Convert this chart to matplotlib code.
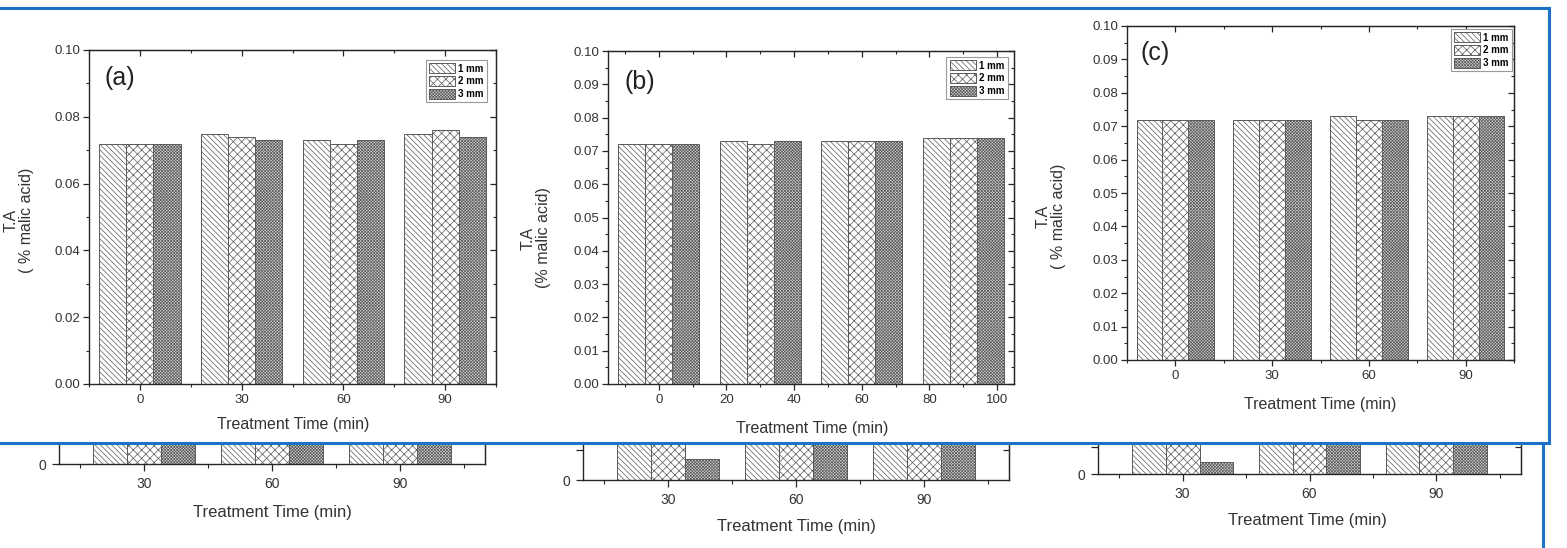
import numpy as np
import matplotlib
matplotlib.use("Agg")
import matplotlib.pyplot as plt
from matplotlib.lines import Line2D
from matplotlib.ticker import MultipleLocator

plt.rcParams['font.family'] = ['Liberation Sans', 'DejaVu Sans']
plt.rcParams['hatch.linewidth'] = 0.5

# data
times = [0, 30, 60, 90]
series_names = ['1 mm', '2 mm', '3 mm']

a_1mm = [0.072, 0.075, 0.073, 0.075]
a_2mm = [0.072, 0.074, 0.072, 0.076]
a_3mm = [0.072, 0.073, 0.073, 0.074]

b_1mm = [0.072, 0.073, 0.073, 0.074]
b_2mm = [0.072, 0.072, 0.073, 0.074]
b_3mm = [0.072, 0.073, 0.073, 0.074]

c_1mm = [0.072, 0.072, 0.073, 0.073]
c_2mm = [0.072, 0.072, 0.072, 0.073]
c_3mm = [0.072, 0.072, 0.072, 0.073]

b_xticks = [0, 20, 40, 60, 80, 100]

# partly hidden figure underneath (bars above the visible strip are cut off)
under_times = [30, 60, 90]
under_a = [[1.5, 1.5, 1.5], [1.5, 1.5, 1.5], [1.5, 1.5, 1.5]]
under_b = [[1.5, 1.5, 0.7], [1.5, 1.5, 1.5], [1.5, 1.5, 1.5]]
under_c = [[1.5, 1.5, 0.44], [1.5, 1.5, 1.5], [1.5, 1.5, 1.5]]

W, H = 1567, 548
fig = plt.figure(figsize=(W / 100, H / 100), dpi=100)

def rect(l, t, r, b):
    return [l / W, 1 - b / H, (r - l) / W, (b - t) / H]

def fpos(x, y):
    return x / W, 1 - y / H

hatches = ['\\' * 6, 'xxxx', 'x' * 11]
faces = ['white', 'white', '#d6d6d6']
edge = '#5a5a5a'
width = 8
offsets = [-8, 0, 8]
spine_c = '#262626'
tick_fs = 9.5
lab_fs = 11.5


def style_ticks(ax, xmaj, xmin, ymaj, ymin):
    for s in ax.spines.values():
        s.set_color(spine_c)
        s.set_linewidth(1.0)
    ax.xaxis.set_major_locator(xmaj)
    ax.xaxis.set_minor_locator(xmin)
    ax.yaxis.set_major_locator(ymaj)
    ax.yaxis.set_minor_locator(ymin)
    ax.tick_params(which='major', direction='out', length=4, width=0.9,
                   color=spine_c, labelsize=tick_fs, labelcolor='#333333')
    ax.tick_params(which='minor', direction='out', length=2.5, width=0.8,
                   color=spine_c)
    ax.tick_params(axis='x', which='major', pad=3)
    ax.tick_params(axis='y', which='major', pad=2)
    sx = ax.secondary_xaxis('top')
    sx.xaxis.set_major_locator(xmaj)
    sx.xaxis.set_minor_locator(xmin)
    sx.tick_params(which='major', direction='in', length=4, width=0.9,
                   color=spine_c, labeltop=False)
    sx.tick_params(which='minor', direction='in', length=2.5, width=0.8,
                   color=spine_c)
    sx.spines['top'].set_color(spine_c)
    sy = ax.secondary_yaxis('right')
    sy.yaxis.set_major_locator(ymaj)
    sy.yaxis.set_minor_locator(ymin)
    sy.tick_params(which='major', direction='in', length=4, width=0.9,
                   color=spine_c, labelright=False)
    sy.tick_params(which='minor', direction='in', length=2.5, width=0.8,
                   color=spine_c)
    sy.spines['right'].set_color(spine_c)


def panel(r, vals, tag, ystep, xticks, leg_anchor, tag_pos):
    ax = fig.add_axes(r)
    for i, v in enumerate(vals):
        ax.bar(np.array(times) + offsets[i], v, width, facecolor=faces[i],
               edgecolor=edge, linewidth=0.7, hatch=hatches[i],
               label=series_names[i])
    if xticks is None:
        xmaj, xmin = MultipleLocator(30), MultipleLocator(15)
    else:
        xmaj, xmin = MultipleLocator(20), MultipleLocator(10)
    style_ticks(ax, xmaj, xmin, MultipleLocator(ystep),
                MultipleLocator(ystep / 2))
    yt = np.arange(0, 0.1001, ystep)
    ax.set_yticks(yt)
    ax.set_yticklabels(['%.2f' % t for t in yt])
    ax.set_xlim(-15, 105)
    ax.set_ylim(0, 0.10)
    leg = ax.legend(loc='upper right', bbox_to_anchor=leg_anchor,
                    borderaxespad=0, prop={'weight': 'bold', 'size': 7},
                    handlelength=2.7, handleheight=1.2, labelspacing=0.25,
                    borderpad=0.35, handletextpad=0.3, fancybox=False,
                    framealpha=1, edgecolor='#9a9a9a')
    leg.get_frame().set_linewidth(0.8)
    ax.text(tag_pos[0], tag_pos[1], tag, transform=ax.transAxes, fontsize=18,
            ha='left', va='center', color='#222222')
    return ax


ax_a = panel(rect(89, 50, 496, 384), [a_1mm, a_2mm, a_3mm], '(a)', 0.02,
             None, (0.978, 0.970), (0.037, 0.916))
ax_b = panel(rect(608, 51, 1014, 384), [b_1mm, b_2mm, b_3mm], '(b)', 0.01,
             b_xticks, (0.985, 0.982), (0.040, 0.907))
ax_c = panel(rect(1127, 26, 1514, 360), [c_1mm, c_2mm, c_3mm], '(c)', 0.01,
             None, (0.995, 0.991), (0.034, 0.919))

# axis titles
for (x, y), txt in [((19, 220), 'T.A\n( % malic acid)'),
                    ((536, 238), 'T.A\n(% malic acid)'),
                    ((1051, 216), 'T.A\n( % malic acid)')]:
    fig.text(*fpos(x, y), txt, rotation=90, ha='center', va='center',
             multialignment='center', fontsize=lab_fs, color='#333333',
             linespacing=1.05)
for x, y in [(293, 425), (812, 428), (1320, 405)]:
    fig.text(*fpos(x, y), 'Treatment Time (min)', ha='center', va='center',
             fontsize=lab_fs, color='#333333')

# strip of the figure underneath
for r, vals, ytop, xl in [(rect(59, 443, 485, 464), under_a, 1.0, (272, 512)),
                          (rect(583, 443, 1009, 480), under_b, 1.23, (796, 527)),
                          (rect(1098, 443, 1521, 474), under_c, 1.15, (1307, 520))]:
    ax = fig.add_axes(r)
    v = np.array(vals)
    for i in range(3):
        ax.bar(np.array(under_times) + offsets[i], v[:, i], width,
               facecolor=faces[i], edgecolor=edge, linewidth=0.7,
               hatch=hatches[i])
    ax.set_xlim(10, 110)
    ax.set_ylim(0, ytop)
    ax.spines['top'].set_visible(False)
    for s in ['left', 'right', 'bottom']:
        ax.spines[s].set_color(spine_c)
        ax.spines[s].set_linewidth(1.0)
    ax.set_xticks(under_times)
    ax.xaxis.set_minor_locator(MultipleLocator(15))
    ax.set_yticks([0, 1])
    ax.set_yticklabels(['0', ''])
    ax.tick_params(which='major', direction='out', length=5, width=0.9,
                   color=spine_c, labelsize=10, labelcolor='#333333', pad=4)
    ax.tick_params(which='minor', direction='out', length=3, width=0.8,
                   color=spine_c)
    sy = ax.secondary_yaxis('right')
    sy.set_yticks([1])
    sy.tick_params(direction='in', length=4, width=0.9, color=spine_c,
                   labelright=False)
    sy.spines['right'].set_color(spine_c)
    fig.text(*fpos(*xl), 'Treatment Time (min)', ha='center', va='center',
             fontsize=12, color='#333333')

# blue frame of the screenshot
blue = '#1b72c6'
for xs, ys in [((0, 1549), (8, 8)), ((1549, 1549), (8, 443)),
               ((0, 1549), (443, 443)), ((1543, 1543), (443, 548))]:
    fig.add_artist(Line2D([xs[0] / W, xs[1] / W], [1 - ys[0] / H, 1 - ys[1] / H],
                          transform=fig.transFigure, color=blue, linewidth=2.2))

fig.savefig('out.png', dpi=100, facecolor='white')
